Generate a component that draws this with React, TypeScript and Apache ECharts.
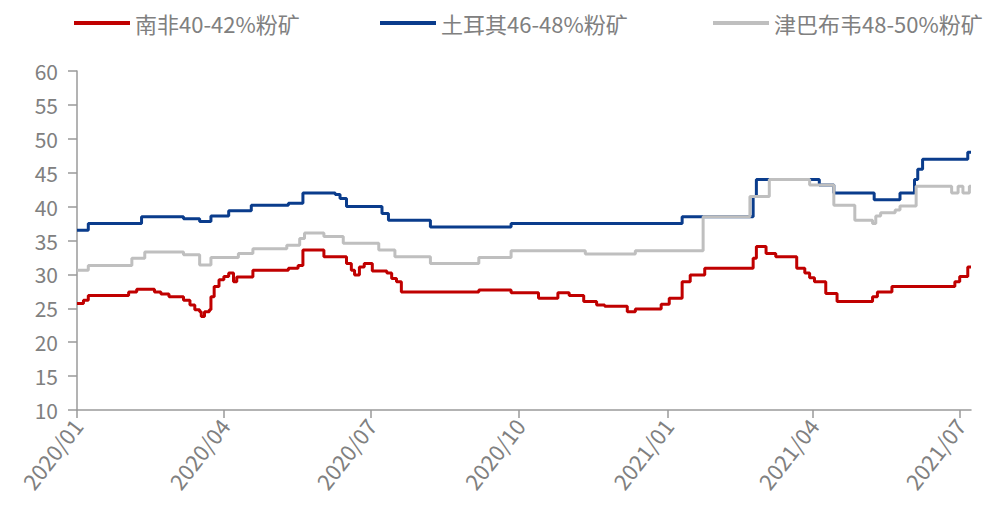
import React, { useEffect, useRef } from "react";
import * as echarts from "echarts";

const seriesNames = ["南非40-42%粉矿", "土耳其46-48%粉矿", "津巴布韦48-50%粉矿"];
const seriesColors = ["#C00000", "#0A3C8C", "#BFBFBF"];

const southAfrica: [string, number][] = [
  ["2020-01-01", 25.7], ["2020-01-05", 26.2], ["2020-01-08", 26.9], ["2020-02-02", 27.4],
  ["2020-02-07", 27.8], ["2020-02-18", 27.4], ["2020-02-22", 27.1], ["2020-02-27", 26.7],
  ["2020-03-07", 26.2], ["2020-03-11", 25.5], ["2020-03-14", 24.8], ["2020-03-17", 24.5],
  ["2020-03-18", 23.8], ["2020-03-20", 24.5], ["2020-03-23", 24.8], ["2020-03-24", 26.7],
  ["2020-03-26", 28.2], ["2020-03-29", 29.2], ["2020-04-01", 29.7], ["2020-04-04", 30.2],
  ["2020-04-07", 28.9], ["2020-04-09", 29.6], ["2020-04-19", 30.6], ["2020-05-11", 30.9],
  ["2020-05-17", 31.3], ["2020-05-20", 33.6], ["2020-06-02", 32.6], ["2020-06-16", 31.6],
  ["2020-06-19", 30.6], ["2020-06-21", 29.9], ["2020-06-24", 31.1], ["2020-06-27", 31.6],
  ["2020-07-02", 30.5], ["2020-07-11", 30.2], ["2020-07-14", 29.4], ["2020-07-17", 28.9],
  ["2020-07-20", 27.4], ["2020-09-06", 27.7], ["2020-09-26", 27.3], ["2020-10-13", 26.5],
  ["2020-10-25", 27.3], ["2020-11-01", 26.9], ["2020-11-10", 26.0], ["2020-11-18", 25.5],
  ["2020-11-23", 25.3], ["2020-12-07", 24.5], ["2020-12-12", 24.9], ["2020-12-28", 25.6],
  ["2021-01-02", 26.5], ["2021-01-10", 28.9], ["2021-01-15", 29.9], ["2021-01-24", 30.9],
  ["2021-02-23", 32.4], ["2021-02-25", 34.1], ["2021-03-03", 33.1], ["2021-03-09", 32.6],
  ["2021-03-22", 30.9], ["2021-03-27", 30.2], ["2021-03-30", 29.5], ["2021-04-02", 28.9],
  ["2021-04-09", 27.2], ["2021-04-16", 26.0], ["2021-05-08", 26.7], ["2021-05-11", 27.4],
  ["2021-05-20", 28.2], ["2021-06-28", 28.9], ["2021-07-01", 29.7], ["2021-07-06", 31.1],
  ["2021-07-08", 31.1],
];

const turkey: [string, number][] = [
  ["2020-01-01", 36.5], ["2020-01-08", 37.5], ["2020-02-10", 38.5], ["2020-03-07", 38.2],
  ["2020-03-17", 37.8], ["2020-03-24", 38.6], ["2020-04-04", 39.4], ["2020-04-18", 40.2],
  ["2020-05-11", 40.5], ["2020-05-20", 42.0], ["2020-06-09", 41.8], ["2020-06-12", 41.2],
  ["2020-06-16", 40.0], ["2020-07-08", 39.0], ["2020-07-12", 38.0], ["2020-08-07", 37.0],
  ["2020-09-26", 37.5], ["2021-01-10", 38.5], ["2021-02-23", 41.5], ["2021-02-25", 44.0],
  ["2021-04-05", 43.2], ["2021-04-14", 42.0], ["2021-05-09", 41.0], ["2021-05-25", 42.0],
  ["2021-06-03", 44.0], ["2021-06-05", 45.5], ["2021-06-08", 47.0], ["2021-07-06", 48.0],
  ["2021-07-08", 48.0],
];

const zimbabwe: [string, number][] = [
  ["2020-01-01", 30.6], ["2020-01-08", 31.3], ["2020-02-04", 32.4], ["2020-02-12", 33.3],
  ["2020-03-07", 32.9], ["2020-03-17", 31.4], ["2020-03-24", 32.5], ["2020-04-10", 33.1],
  ["2020-04-19", 33.8], ["2020-05-10", 34.3], ["2020-05-18", 35.3], ["2020-05-21", 36.1],
  ["2020-06-02", 35.6], ["2020-06-14", 34.6], ["2020-07-06", 33.6], ["2020-07-16", 32.6],
  ["2020-08-07", 31.6], ["2020-09-06", 32.5], ["2020-09-26", 33.5], ["2020-11-11", 33.0],
  ["2020-12-12", 33.5], ["2021-01-23", 38.5], ["2021-02-21", 41.5], ["2021-03-05", 44.0],
  ["2021-03-30", 43.2], ["2021-04-14", 40.2], ["2021-04-27", 38.0], ["2021-05-08", 37.5],
  ["2021-05-10", 38.6], ["2021-05-13", 39.1], ["2021-05-22", 39.5], ["2021-05-25", 40.1],
  ["2021-06-04", 43.0], ["2021-06-26", 42.0], ["2021-06-30", 43.0], ["2021-07-03", 42.0],
  ["2021-07-07", 43.0], ["2021-07-08", 43.0],
];

const xTickDates = ["2020-01-01", "2020-04-01", "2020-07-01", "2020-10-01", "2021-01-01", "2021-04-01", "2021-07-01"];
const xMin = "2020-01-01";
const xMax = "2021-07-08";
const yMin = 10;
const yMax = 60;
const yStep = 5;

const legendLefts = [69, 375, 708];

function toTs(s: string): number {
  const [y, m, d] = s.split("-").map(Number);
  return new Date(y, m - 1, d).getTime();
}

export default function App() {
  const ref = useRef<HTMLDivElement>(null);
  useEffect(() => {
    if (!ref.current) return;
    const chart = echarts.init(ref.current, null, { renderer: "svg" });
    const font = "'Noto Sans CJK SC', 'Noto Sans', sans-serif";
    const gray = "#808080";
    const axisColor = "#9a9a9a";
    const tickVals = xTickDates.map(toTs);
    const datasets = [southAfrica, turkey, zimbabwe];
    chart.setOption({
      animation: false,
      backgroundColor: "#ffffff",
      legend: seriesNames.map((n, i) => ({
        data: [n],
        left: legendLefts[i],
        top: 7,
        icon: "rect",
        itemWidth: 56,
        itemHeight: 4,
        textStyle: { color: gray, fontSize: 22, fontFamily: font },
      })),
      grid: { left: 77, right: 14, top: 71, bottom: 98 },
      xAxis: {
        type: "value",
        min: toTs(xMin),
        max: toTs(xMax),
        splitLine: { show: false },
        axisLine: { lineStyle: { color: axisColor, width: 1.5 } },
        axisTick: { show: true, length: 8, customValues: tickVals, lineStyle: { color: axisColor, width: 1.5 } },
        axisLabel: {
          customValues: tickVals,
          rotate: 52,
          margin: 11,
          color: gray,
          fontSize: 22,
          fontFamily: font,
          formatter: (v: number) => {
            const d = new Date(v);
            const m = d.getMonth() + 1;
            return d.getFullYear() + "/" + (m < 10 ? "0" + m : "" + m);
          },
        },
      },
      yAxis: {
        type: "value",
        min: yMin,
        max: yMax,
        interval: yStep,
        splitLine: { show: false },
        axisLine: { show: true, lineStyle: { color: axisColor, width: 1.5 } },
        axisTick: { show: true, length: 9, lineStyle: { color: axisColor, width: 1.5 } },
        axisLabel: { color: gray, fontSize: 21, fontFamily: font, margin: 19 },
      },
      series: datasets.map((data, i) => ({
        name: seriesNames[i],
        type: "line",
        step: "end",
        showSymbol: false,
        symbol: "none",
        color: seriesColors[i],
        lineStyle: { color: seriesColors[i], width: 3 },
        data: data.map(([d, v]) => [toTs(d), v]),
      })),
    });
    return () => chart.dispose();
  }, []);
  return <div ref={ref} style={{ width: 985, height: 508, position: "absolute", left: 0, top: 0 }} />;
}
